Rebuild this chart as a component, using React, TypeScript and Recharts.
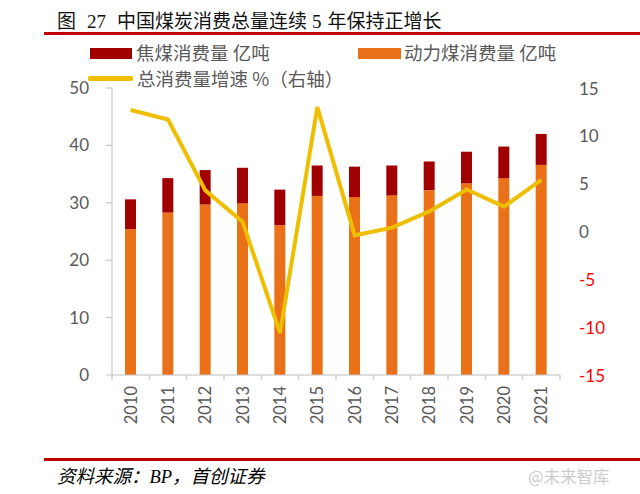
import React from 'react';
import { ComposedChart, Bar, Line, XAxis, YAxis } from 'recharts';

const years = ['2010','2011','2012','2013','2014','2015','2016','2017','2018','2019','2020','2021'];
const thermalCoal = [25.4, 28.3, 29.7, 29.9, 26.1, 31.2, 31.0, 31.3, 32.2, 33.4, 34.3, 36.6];
const cokingCoal = [5.2, 6.0, 6.0, 6.2, 6.2, 5.3, 5.3, 5.2, 5.0, 5.5, 5.5, 5.4];
const growthPct = [12.7, 11.7, 4.3, 1.0, -10.6, 13.0, -0.4, 0.4, 2.1, 4.4, 2.6, 5.4];
const leftTicks = [0, 10, 20, 30, 40, 50];
const rightTicks = [-15, -10, -5, 0, 5, 10, 15];

const data = years.map((y, i) => ({
  year: y,
  thermal: thermalCoal[i],
  coking: cokingCoal[i],
  growth: growthPct[i],
}));

const FONT = 'Lato, "Noto Sans", sans-serif';
const CJK = '"Noto Sans CJK SC", sans-serif';
const GREY = '#595959';
const DARKRED = '#A00000';
const ORANGE = '#EB7118';
const YELLOW = '#EEBE00';

const XTick = (props: any) => {
  const { x, y, payload, index } = props;
  const half = 448 / 12 / 2;
  return (
    <g>
      <line x1={x - half} y1={y - 8} x2={x - half} y2={y - 3} stroke="#BFBFBF" />
      {index === years.length - 1 && (
        <line x1={x + half} y1={y - 8} x2={x + half} y2={y - 3} stroke="#BFBFBF" />
      )}
      <text
        x={x}
        y={y}
        transform={`rotate(-90, ${x}, ${y + 3})`}
        textAnchor="end"
        dominantBaseline="central"
        fontFamily={FONT}
        fontSize={16.5}
        fill={GREY}
      >
        <tspan x={x} y={y + 3}>{payload.value}</tspan>
      </text>
    </g>
  );
};

const RightTick = (props: any) => {
  const { x, y, payload } = props;
  return (
    <text x={x} y={y} textAnchor="start" dominantBaseline="central" fontFamily={FONT} fontSize={17}
      fill={payload.value < 0 ? '#FF0000' : GREY}>
      {payload.value}
    </text>
  );
};

const serifNum: React.CSSProperties = { fontFamily: '"Liberation Serif", serif' };

export default function App() {
  return (
    <div style={{ position: 'absolute', left: 0, top: 0, width: 640, height: 494, background: '#fff', overflow: 'hidden' }}>
      <div style={{ position: 'absolute', left: 57, top: 6, fontFamily: CJK, fontSize: 19, lineHeight: '28px', color: '#111', whiteSpace: 'nowrap', fontWeight: 400 }}>
        图<span style={{ ...serifNum, marginLeft: 11, marginRight: 11 }}>27</span>中国煤炭消费总量连续<span style={{ ...serifNum, marginLeft: 5, marginRight: 6 }}>5</span>年保持正增长
      </div>
      <div style={{ position: 'absolute', left: 44, top: 32, width: 596, height: 2.5, background: '#C00000' }} />

      <div style={{ position: 'absolute', left: 90, top: 48, width: 42, height: 11, background: DARKRED }} />
      <div style={{ position: 'absolute', left: 136, top: 38, fontFamily: CJK, fontSize: 18.5, lineHeight: '28px', color: GREY, whiteSpace: 'nowrap' }}>焦煤消费量 亿吨</div>
      <div style={{ position: 'absolute', left: 358, top: 48, width: 43, height: 11, background: ORANGE }} />
      <div style={{ position: 'absolute', left: 404, top: 38, fontFamily: CJK, fontSize: 18.5, lineHeight: '28px', color: GREY, whiteSpace: 'nowrap' }}>动力煤消费量 亿吨</div>
      <div style={{ position: 'absolute', left: 88, top: 76, width: 45, height: 4.5, background: YELLOW, borderRadius: 2 }} />
      <div style={{ position: 'absolute', left: 137, top: 64, fontFamily: CJK, fontSize: 18.5, lineHeight: '28px', color: GREY, whiteSpace: 'nowrap' }}>总消费量增速 %（右轴）</div>

      <div style={{ position: 'absolute', left: 0, top: 0 }}>
        <ComposedChart width={640} height={494} data={data} margin={{ top: 88, right: 0, bottom: 0, left: 0 }}>
          <XAxis dataKey="year" yAxisId="left" height={119} tick={<XTick />} tickLine={false}
            axisLine={{ stroke: '#BFBFBF' }} interval={0} />
          <YAxis yAxisId="left" width={112} domain={[0, 50]} ticks={leftTicks} tickSize={6} tickMargin={17}
            axisLine={{ stroke: '#BFBFBF' }} tickLine={{ stroke: '#BFBFBF' }}
            tick={{ fontFamily: FONT, fontSize: 17, fill: GREY }} interval={0} />
          <YAxis yAxisId="right" orientation="right" width={80} domain={[-15, 15]} ticks={rightTicks}
            tickSize={0} tickMargin={19} axisLine={false} tickLine={false} tick={<RightTick />} interval={0} />
          <Bar yAxisId="left" dataKey="thermal" stackId="a" fill={ORANGE} barSize={11} isAnimationActive={false} />
          <Bar yAxisId="left" dataKey="coking" stackId="a" fill={DARKRED} barSize={11} isAnimationActive={false} />
          <Line yAxisId="right" dataKey="growth" stroke={YELLOW} strokeWidth={4} dot={false} type="linear" isAnimationActive={false} />
        </ComposedChart>
      </div>

      <div style={{ position: 'absolute', left: 44, top: 458, width: 596, height: 2.5, background: '#C00000' }} />
      <div style={{ position: 'absolute', left: 57, top: 463, fontFamily: '"Liberation Serif", "Noto Sans CJK SC", serif', fontStyle: 'italic', fontSize: 18.5, lineHeight: '28px', color: '#000', whiteSpace: 'nowrap' }}>资料来源：BP，首创证券</div>
      <div style={{ position: 'absolute', left: 528, top: 464, fontFamily: CJK, fontSize: 16.5, lineHeight: '24px', color: '#CCCCCC', whiteSpace: 'nowrap' }}>@未来智库</div>
    </div>
  );
}
